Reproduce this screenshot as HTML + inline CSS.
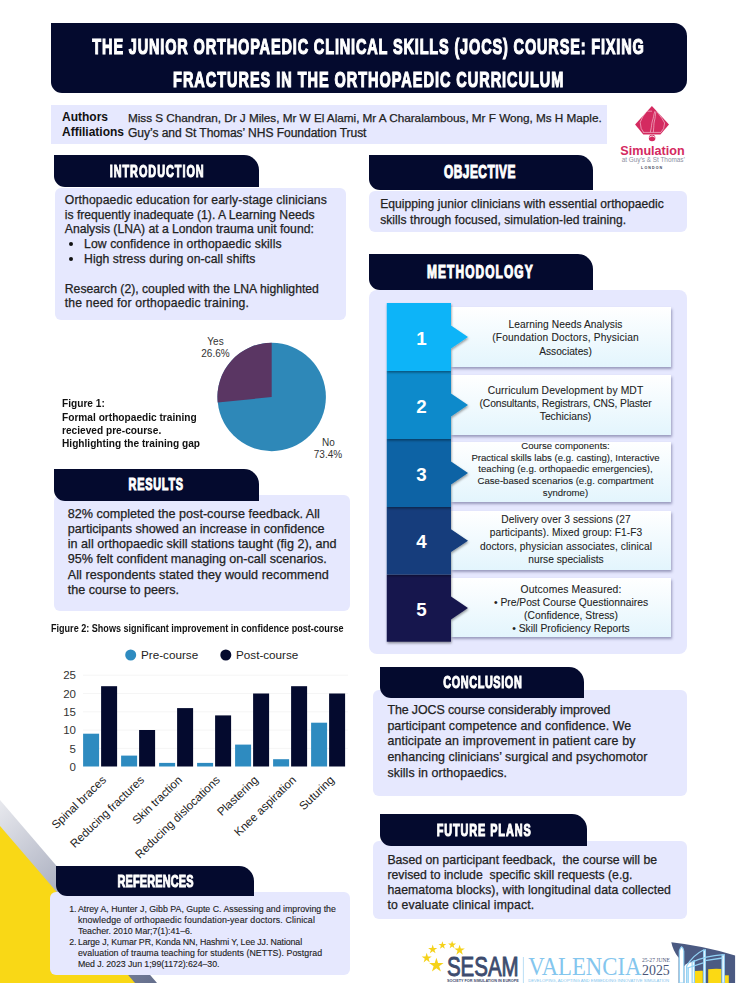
<!DOCTYPE html>
<html><head><meta charset="utf-8">
<style>
*{margin:0;padding:0;box-sizing:border-box}
html,body{width:737px;height:983px;overflow:hidden;background:#fff}
body{position:relative;font-family:"Liberation Sans",sans-serif;color:#222}
.a{position:absolute}
.navy{background:#040a2e}
.lav{background:#e6e8fe}
.tab{position:absolute;background:#040a2e;display:flex;align-items:center;justify-content:center;border-radius:0 15px 0 11px;color:#fff;font-weight:bold;white-space:nowrap}
.tab span{display:inline-block;-webkit-text-stroke:1.1px #fff;font-size:17px;line-height:17px}
.box{position:absolute;background:#e6e8fe;border-radius:6px}
.t{position:absolute;white-space:nowrap;-webkit-text-stroke:0.25px #222}
.mbox{background:linear-gradient(#ffffff,#e3f5fd);box-shadow:0.5px 2px 2.5px rgba(60,60,110,0.45)}
.title{position:absolute;left:-132px;width:1000px;text-align:center;color:#fff;font-weight:bold;font-size:22.7px;line-height:33px;white-space:nowrap}
.title span{display:inline-block;transform:scaleX(0.64);-webkit-text-stroke:1.2px #fff}
</style></head>
<body>
<!-- bottom-left decoration -->
<svg class="a" style="left:0;top:780px" width="200" height="203" viewBox="0 780 200 203">
<defs><linearGradient id="gg" x1="0" y1="800" x2="160" y2="983" gradientUnits="userSpaceOnUse">
<stop offset="0" stop-color="#e8e9ee"/><stop offset="0.5" stop-color="#a3a8ba"/><stop offset="1" stop-color="#636d8b"/></linearGradient></defs>
<polygon points="0,800 157,983 0,983" fill="url(#gg)"/>
<polygon points="0,826 135,983 0,983" fill="#f9d816"/>
</svg>

<!-- title banner -->
<div class="a navy" style="left:51px;top:23px;width:636px;height:70px;border-radius:0 13px 13px 11px"></div>
<div class="title" style="top:29.9px"><span style="letter-spacing:1.31px;margin-right:-1.31px">THE JUNIOR ORTHOPAEDIC CLINICAL SKILLS (JOCS) COURSE: FIXING</span></div>
<div class="title" style="top:62.7px"><span style="letter-spacing:1.50px;margin-right:-1.50px">FRACTURES IN THE ORTHOPAEDIC CURRICULUM</span></div>

<!-- authors -->
<div class="a lav" style="left:51px;top:105px;width:556px;height:39px"></div>
<div class="t" style="left:62px;top:110.0px;font-size:12px;line-height:15.4px;font-weight:bold;color:#111;-webkit-text-stroke:0">Authors<br>Affiliations</div>
<div class="t" style="left:128px;top:109.8px;font-size:11.78px;line-height:15px;color:#222;letter-spacing:-0.032px">Miss S Chandran, Dr J Miles, Mr W El Alami, Mr A Charalambous, Mr F Wong, Ms H Maple.</div>
<div class="t" style="left:128px;top:125.8px;font-size:12.07px;line-height:15px;color:#222;letter-spacing:-0.05px">Guy’s and St Thomas’ NHS Foundation Trust</div>

<!-- simulation logo -->
<svg class="a" style="left:615px;top:100px" width="80" height="75" viewBox="615 100 80 75">
<polygon points="651.9,106 669,124.4 660.4,134.6 643.3,134.6 635.1,124.4" fill="#d42a60"/>
<circle cx="652.1" cy="138" r="3.3" fill="#d42a60"/><path d="M649.3,137.2 Q652.1,134.6 654.9,137.2" fill="none" stroke="#fff" stroke-width="0.9"/>
<g fill="none" stroke="#fbe3ea" stroke-width="0.55" stroke-linecap="round" stroke-linejoin="round">
<path d="M646.3,111.5 L642.6,117 L640.2,122.4 L641.2,128.5 L643.3,131.9"/>
<path d="M657.2,111.9 L661.9,118.3 L664.6,123 L663.6,128.5 L661.2,131.9"/>
<path d="M647.7,111.2 L651.7,111.2"/>
<path d="M654.8,111.5 C653.5,115 653.6,118 652.4,121 C651.4,124 651.6,127 651,129 L650.4,131.9"/>
<path d="M655.8,112.2 C655.2,115 655.4,118 654.4,121 C653.6,124 654,127 653.6,129 L653.4,131.9"/>
<path d="M643.3,132.4 L660.6,132.4"/>
</g>
<text x="652.5" y="154.8" font-family="Liberation Sans" font-weight="bold" font-size="12.6" fill="#d42a60" text-anchor="middle">Simulation</text>
<text x="653.3" y="162.4" font-family="Liberation Sans" font-size="6.4" fill="#8d90a2" text-anchor="middle">at Guy’s &amp; St Thomas’</text>
<text x="652.2" y="168.9" font-family="Liberation Sans" font-weight="bold" font-size="3.6" letter-spacing="1.1" fill="#3a3f55" text-anchor="middle">LONDON</text>
</svg>

<!-- INTRO -->
<div class="box" style="left:55px;top:188px;width:291px;height:132px"></div>
<div class="tab" style="left:54px;top:155px;width:205px;height:32px"><span style="transform:scaleX(0.64);letter-spacing:1.50px;margin-right:-1.50px">INTRODUCTION</span></div>
<div class="t" style="left:64.8px;top:192.8px;font-size:12.2px;line-height:14.8px"><span style="letter-spacing:0.111px">Orthopaedic education for early-stage clinicians</span><br><span style="letter-spacing:-0.022px">is frequently inadequate (1). A Learning Needs</span><br><span style="letter-spacing:-0.023px">Analysis (LNA) at a London trauma unit found:</span></div>
<div class="t" style="left:84.1px;top:237.2px;font-size:12.2px;line-height:14.8px"><span style="letter-spacing:0.086px">Low confidence in orthopaedic skills</span><br><span style="letter-spacing:0.059px">High stress during on-call shifts</span></div>
<div class="a" style="left:69px;top:242.3px;width:4px;height:4px;border-radius:50%;background:#111"></div>
<div class="a" style="left:69px;top:257.3px;width:4px;height:4px;border-radius:50%;background:#111"></div>
<div class="t" style="left:64.8px;top:281.6px;font-size:12.2px;line-height:14.8px">Research (2), coupled with the LNA highlighted<br><span style="letter-spacing:0.158px">the need for orthopaedic training.</span></div>

<!-- pie -->
<svg class="a" style="left:190px;top:330px" width="160" height="135" viewBox="190 330 160 135">
<circle cx="271.7" cy="397" r="54.2" fill="#2e88b8"/>
<path d="M271.7,397 L271.7,342.8 A54.2,54.2 0 0 0 217.7,402.6 Z" fill="#5a3663"/>
<g font-family="Liberation Sans" font-size="10" fill="#333" text-anchor="middle">
<text x="215.5" y="345">Yes</text><text x="215.5" y="356.5">26.6%</text>
<text x="328.5" y="446">No</text><text x="328" y="457.5">73.4%</text>
</g>
</svg>
<div class="t" style="left:62.2px;top:397.4px;font-size:11px;line-height:13.3px;font-weight:bold;color:#111;-webkit-text-stroke:0;transform:scaleX(0.922);transform-origin:0 0">Figure 1:<br>Formal orthopaedic training<br>recieved pre-course.<br>Highlighting the training gap</div>

<!-- RESULTS -->
<div class="box" style="left:54px;top:495px;width:296px;height:116px"></div>
<div class="tab" style="left:54px;top:468.5px;width:205px;height:32px"><span style="transform:translateX(-1px) scaleX(0.64);letter-spacing:1.18px;margin-right:-1.18px">RESULTS</span></div>
<div class="t" style="left:67.8px;top:507.1px;font-size:12.6px;line-height:14.9px">82% completed the post-course feedback. All<br><span style="letter-spacing:-0.020px">participants showed an increase in confidence</span><br>in all orthopaedic skill stations taught (fig 2), and<br><span style="letter-spacing:-0.031px">95% felt confident managing on-call scenarios.</span></div>
<div class="t" style="left:67.8px;top:568.2px;font-size:12.6px;line-height:14.9px"><span style="letter-spacing:0.062px">All respondents stated they would recommend</span><br>the course to peers.</div>

<div class="t" style="left:50.7px;top:622.9px;font-size:10px;line-height:11px;font-weight:bold;color:#111;-webkit-text-stroke:0;transform:scaleX(0.906);transform-origin:0 0">Figure 2: Shows significant improvement in confidence post-course</div>

<!-- bar chart -->
<svg class="a" style="left:40px;top:640px" width="320" height="220" viewBox="40 640 320 220" font-family="Liberation Sans">
<circle cx="130.7" cy="655" r="5.5" fill="#2e8bc0"/>
<text x="141" y="659.2" font-size="11.7" fill="#222">Pre-course</text>
<circle cx="225.8" cy="655" r="5.5" fill="#040a2e"/>
<text x="236" y="659.2" font-size="11.7" fill="#222">Post-course</text>
<g stroke="#f3f3f3" stroke-width="0.8">
<line x1="83" y1="675.2" x2="348" y2="675.2"/><line x1="83" y1="693.5" x2="348" y2="693.5"/><line x1="83" y1="711.8" x2="348" y2="711.8"/><line x1="83" y1="730.1" x2="348" y2="730.1"/><line x1="83" y1="748.4" x2="348" y2="748.4"/>
</g>
<g font-size="11.5" fill="#333" text-anchor="end">
<text x="76" y="679.3">25</text><text x="76" y="697.6">20</text><text x="76" y="715.9">15</text><text x="76" y="734.2">10</text><text x="76" y="752.5">5</text><text x="76" y="770.8">0</text>
</g>
<g id="bars"><rect x="83.1" y="733.7" width="16" height="32.8" fill="#2e8bc0"/><rect x="101.1" y="686.2" width="16" height="80.3" fill="#040a2e"/><rect x="121.1" y="755.6" width="16" height="10.9" fill="#2e8bc0"/><rect x="139.1" y="730.0" width="16" height="36.5" fill="#040a2e"/><rect x="159.1" y="762.9" width="16" height="3.6" fill="#2e8bc0"/><rect x="177.1" y="708.1" width="16" height="58.4" fill="#040a2e"/><rect x="197.1" y="762.9" width="16" height="3.6" fill="#2e8bc0"/><rect x="215.1" y="715.4" width="16" height="51.1" fill="#040a2e"/><rect x="235.1" y="744.6" width="16" height="21.9" fill="#2e8bc0"/><rect x="253.1" y="693.5" width="16" height="73.0" fill="#040a2e"/><rect x="273.1" y="759.2" width="16" height="7.3" fill="#2e8bc0"/><rect x="291.1" y="686.2" width="16" height="80.3" fill="#040a2e"/><rect x="311.1" y="722.7" width="16" height="43.8" fill="#2e8bc0"/><rect x="329.1" y="693.5" width="16" height="73.0" fill="#040a2e"/></g>
<g font-size="11.6" fill="#222" text-anchor="end">
<text transform="translate(106.8,780.8) rotate(-44)">Spinal braces</text>
<text transform="translate(144.8,780.8) rotate(-44)">Reducing fractures</text>
<text transform="translate(182.8,780.8) rotate(-44)">Skin traction</text>
<text transform="translate(220.8,780.8) rotate(-44)">Reducing dislocations</text>
<text transform="translate(258.8,780.8) rotate(-44)">Plastering</text>
<text transform="translate(296.8,780.8) rotate(-44)">Knee aspiration</text>
<text transform="translate(334.8,780.8) rotate(-44)">Suturing</text>
</g>
</svg>

<!-- REFERENCES -->
<div class="box" style="left:50px;top:891.5px;width:300px;height:83px"></div>
<div class="tab" style="left:56px;top:866px;width:198px;height:30px"><span style="transform:scaleX(0.64);letter-spacing:0.28px;margin-right:-0.28px">REFERENCES</span></div>

<div class="t" style="left:68.5px;top:904.2px;font-size:8.8px;line-height:10.9px;text-align:right;width:8px;-webkit-text-stroke:0.12px #222">1.<br><br><br>2.</div>
<div class="t" style="left:77.9px;top:904.2px;font-size:8.8px;line-height:10.9px;-webkit-text-stroke:0.12px #222">Atrey A, Hunter J, Gibb PA, Gupte C. Assessing and improving the<br><span style="letter-spacing:0.151px">knowledge of orthopaedic foundation-year doctors. Clinical</span><br><span style="letter-spacing:-0.037px">Teacher. 2010 Mar;7(1):41–6.</span><br><span style="letter-spacing:-0.107px">Large J, Kumar PR, Konda NN, Hashmi Y, Lee JJ. National</span><br><span style="letter-spacing:0.053px">evaluation of trauma teaching for students (NETTS). Postgrad</span><br><span style="letter-spacing:-0.064px">Med J. 2023 Jun 1;99(1172):624–30.</span></div>

<!-- OBJECTIVE -->
<div class="box" style="left:369px;top:191px;width:318px;height:41px"></div>
<div class="tab" style="left:369px;top:155px;width:224px;height:35px"><span style="font-size:17.5px;transform:translateX(-1px) scaleX(0.68);letter-spacing:0.74px;margin-right:-0.74px">OBJECTIVE</span></div>

<div class="t" style="left:380.2px;top:196.8px;font-size:12.1px;line-height:15.7px"><span style="letter-spacing:0.038px">Equipping junior clinicians with essential orthopaedic</span><br><span style="letter-spacing:0.043px">skills through focused, simulation-led training.</span></div>

<!-- METHODOLOGY -->
<div class="box" style="left:369px;top:290px;width:318px;height:364px;border-radius:8px"></div>
<div class="tab" style="left:369px;top:254px;width:224px;height:36px"><span style="font-size:17.5px;transform:translateX(-1px) scaleX(0.68);letter-spacing:1.61px;margin-right:-1.61px">METHODOLOGY</span></div>

<!-- steps -->
<div class="a mbox" style="left:451px;top:307px;width:220px;height:59.5px"></div>
<div class="a mbox" style="left:451px;top:375px;width:220px;height:59.8px"></div>
<div class="a mbox" style="left:451px;top:442px;width:220px;height:59.5px"></div>
<div class="a mbox" style="left:451px;top:510.8px;width:220px;height:59.0px"></div>
<div class="a mbox" style="left:451px;top:577.8px;width:220px;height:59.3px"></div>
<svg class="a" style="left:380px;top:295px;overflow:visible" width="100" height="360" viewBox="380 295 100 360"><defs><filter id="ds" x="-20%" y="-20%" width="140%" height="140%"><feDropShadow dx="0.5" dy="1.5" stdDeviation="1.2" flood-color="#000" flood-opacity="0.4"/></filter></defs><polygon points="386.8,574.4 451,574.4 451,596.6 468,608.0 451,619.4 451,641.7 386.8,641.7" fill="#17174d" filter="url(#ds)"/><text x="421.4" y="615.6" font-family="Liberation Sans" font-weight="bold" font-size="18.8" fill="#fff" text-anchor="middle">5</text><polygon points="386.8,507 451,507 451,529.3 468,540.7 451,552.1 451,574.4 386.8,574.4" fill="#133c7b" filter="url(#ds)"/><text x="421.4" y="548.3" font-family="Liberation Sans" font-weight="bold" font-size="18.8" fill="#fff" text-anchor="middle">4</text><polygon points="386.8,439 451,439 451,461.6 468,473.0 451,484.4 451,507 386.8,507" fill="#0e63a5" filter="url(#ds)"/><text x="421.4" y="480.6" font-family="Liberation Sans" font-weight="bold" font-size="18.8" fill="#fff" text-anchor="middle">3</text><polygon points="386.8,371 451,371 451,393.6 468,405.0 451,416.4 451,439 386.8,439" fill="#0a8acb" filter="url(#ds)"/><text x="421.4" y="412.6" font-family="Liberation Sans" font-weight="bold" font-size="18.8" fill="#fff" text-anchor="middle">2</text><polygon points="386.8,303 451,303 451,325.6 468,337.0 451,348.4 451,371 386.8,371" fill="#0ab4f8" filter="url(#ds)"/><text x="421.4" y="344.6" font-family="Liberation Sans" font-weight="bold" font-size="18.8" fill="#fff" text-anchor="middle">1</text></svg>
<div class="t" style="left:415.5px;width:300px;text-align:center;top:318.4px;font-size:10.2px;line-height:13.1px;color:#222;-webkit-text-stroke:0.08px #222"><span style="letter-spacing:0.082px">Learning Needs Analysis</span><br><span style="letter-spacing:0.169px">(Foundation Doctors, Physician</span><br>Associates)</div>
<div class="t" style="left:415.5px;width:300px;text-align:center;top:383.9px;font-size:10.3px;line-height:13px;color:#222;-webkit-text-stroke:0.08px #222"><span style="letter-spacing:0.118px">Curriculum Development by MDT</span><br><span style="letter-spacing:-0.097px">(Consultants, Registrars, CNS, Plaster</span><br>Techicians)</div>
<div class="t" style="left:415.5px;width:300px;text-align:center;top:439.9px;font-size:9.6px;line-height:11.8px;color:#222;-webkit-text-stroke:0.08px #222">Course components:<br>Practical skills labs (e.g. casting), Interactive<br>teaching (e.g. orthopaedic emergencies),<br>Case-based scenarios (e.g. compartment<br>syndrome)</div>
<div class="t" style="left:416px;width:300px;text-align:center;top:512.5px;font-size:10.2px;line-height:13.5px;color:#222;-webkit-text-stroke:0.08px #222"><span style="letter-spacing:0.052px">Delivery over 3 sessions (27</span><br><span style="letter-spacing:0.075px">participants). Mixed group: F1-F3</span><br><span style="letter-spacing:0.087px">doctors, physician associates, clinical</span><br>nurse specialists</div>
<div class="t" style="left:421px;width:300px;text-align:center;top:582.7px;font-size:10.3px;line-height:13.1px;color:#222;-webkit-text-stroke:0.08px #222"><span style="letter-spacing:0.135px">Outcomes Measured:</span><br>• Pre/Post Course Questionnaires<br>(Confidence, Stress)<br>• Skill Proficiency Reports</div>

<!-- CONCLUSION -->
<div class="box" style="left:373px;top:690px;width:314px;height:106px"></div>
<div class="tab" style="left:380px;top:667px;width:204px;height:31px"><span style="transform:scaleX(0.64);letter-spacing:0.93px;margin-right:-0.93px">CONCLUSION</span></div>

<div class="t" style="left:387.4px;top:702.9px;font-size:12.4px;line-height:15.8px"><span style="letter-spacing:-0.078px">The JOCS course considerably improved</span><br><span style="letter-spacing:0.072px">participant competence and confidence. We</span><br><span style="letter-spacing:0.112px">anticipate an improvement in patient care by</span><br><span style="letter-spacing:0.049px">enhancing clinicians’ surgical and psychomotor</span><br><span style="letter-spacing:0.082px">skills in orthopaedics.</span></div>

<!-- FUTURE PLANS -->
<div class="box" style="left:373px;top:841px;width:314px;height:78px"></div>
<div class="tab" style="left:380px;top:814px;width:207px;height:32px"><span style="transform:scaleX(0.64);letter-spacing:1.42px;margin-right:-1.42px">FUTURE PLANS</span></div>

<div class="t" style="left:387.4px;top:852.7px;font-size:12.25px;line-height:15px;white-space:pre">Based on participant feedback,  the course will be
revised to include  specific skill requests (e.g.
<span style="letter-spacing:0.072px">haematoma blocks), with longitudinal data collected</span>
<span style="letter-spacing:0.141px">to evaluate clinical impact.</span></div>
<!-- SESAM logo -->
<svg class="a" style="left:415px;top:935px" width="322" height="48" viewBox="415 935 322 48">
<defs><path id="st" d="M0,-1 L0.2245,-0.309 L0.951,-0.309 L0.363,0.118 L0.588,0.809 L0,0.382 L-0.588,0.809 L-0.363,0.118 L-0.951,-0.309 L-0.2245,-0.309 Z"/></defs>
<g fill="#f5d21a">
<use href="#st" transform="translate(436.4,965.4) scale(7.59)"/>
<use href="#st" transform="translate(426.7,958.1) scale(5.29)"/>
<use href="#st" transform="translate(432.7,949.4) scale(4.83)"/>
<use href="#st" transform="translate(442.4,945.3) scale(4.14)"/>
<use href="#st" transform="translate(452.1,944.9) scale(4.14)"/>
<use href="#st" transform="translate(459.6,950.2) scale(5.52)"/>
</g>
<text x="0" y="0" transform="translate(446.9,976) scale(0.76,1)" font-family="Liberation Sans" font-size="27" fill="#3d4b6e" stroke="#3d4b6e" stroke-width="0.9">SESAM</text>
<text x="446.9" y="981.6" font-family="Liberation Sans" font-weight="bold" font-size="3.9" fill="#3d4b6e" textLength="72" lengthAdjust="spacingAndGlyphs">SOCIETY FOR SIMULATION IN EUROPE</text>
<line x1="523.4" y1="957" x2="523.4" y2="983" stroke="#a9d6f2" stroke-width="0.8"/>
<text x="0" y="0" transform="translate(528.2,975.4) scale(0.875,1)" font-family="Liberation Serif" font-size="26" fill="#84c6ee">VALENCIA</text>
<text x="528.2" y="981.6" font-family="Liberation Sans" font-size="3.9" fill="#84c6ee" textLength="141" lengthAdjust="spacingAndGlyphs">DEVELOPING, ADOPTING AND EMBEDDING INNOVATIVE SIMULATION</text>
<text x="642" y="962" font-family="Liberation Serif" font-size="6" fill="#4a5578" textLength="27.8" lengthAdjust="spacingAndGlyphs">25-27 JUNE</text>
<text x="642" y="975.4" font-family="Liberation Serif" font-size="14.5" fill="#4a5578" textLength="27.8" lengthAdjust="spacingAndGlyphs">2025</text>
<path d="M671.3,942.3 Q705,946 735.1,955.6 L735.1,983 L678.6,983 L678.6,957.7 Q673,951 671.3,942.3Z" fill="#4b5a82"/>
<path d="M684.3,983 L684.3,966 Q686,964 688,963 L692,962 L692,983Z" fill="#fff"/>
<path d="M694.8,971.1 Q699,970.5 702.8,970.8 L702.8,983 L694.8,983Z" fill="#fbd914"/>
<path d="M708.2,969.2 Q715,968.6 721.3,969 L721.3,983 L708.2,983Z" fill="#fbd914"/>
<rect x="724.6" y="975.3" width="4.2" height="7.7" fill="#fbd914"/>
<g fill="#fff" stroke="#92d2f5" stroke-width="1.1">
<path d="M679.3,983 L679.3,951 Q680.5,947.5 681.6,946.8 Q683,947.5 683.8,951 L683.8,983Z"/>
<path d="M703.6,983 L703.6,950.5 L705.4,949.8 L705.4,983Z"/>
<path d="M692.1,983 L692.1,961.6 L694.4,960.6 L694.4,983Z"/>
<path d="M722,983 L722,955.2 L724.3,954.6 L724.3,983Z"/>
</g>
<g fill="none" stroke="#92d2f5" stroke-width="1.3">
<path d="M686.7,983 L686.7,966 Q693,955 704.4,949.5"/>
<path d="M688.2,983 L688.2,967.5"/>
<path d="M687.5,968 L704,962.6"/>
<path d="M692.5,962 Q705,956 723.5,954.6"/>
<path d="M705,960.6 L722.5,958"/>
</g>
</svg>
</body></html>
